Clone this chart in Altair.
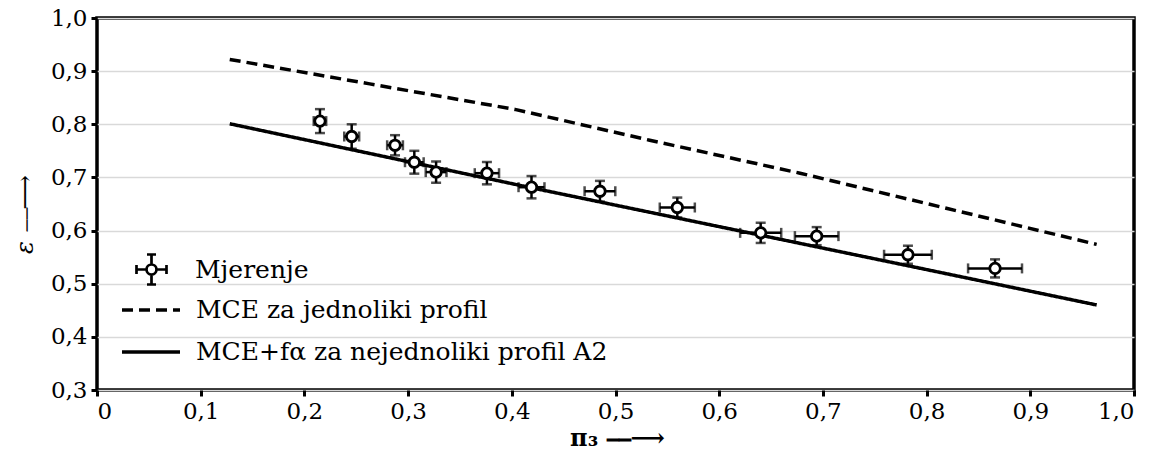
import altair as alt
import pandas as pd

# Measurement points
pi3 = [0.215, 0.2456, 0.2874, 0.306, 0.327, 0.376, 0.419, 0.485, 0.5596, 0.640, 0.694, 0.782, 0.866]
eps = [0.806, 0.777, 0.7605, 0.7286, 0.710, 0.708, 0.6816, 0.674, 0.6434, 0.5957, 0.5895, 0.5545, 0.5288]
pi3_err = [0.006, 0.0072, 0.0076, 0.009, 0.010, 0.0117, 0.0125, 0.0148, 0.0169, 0.0198, 0.021, 0.023, 0.026]
eps_err = [0.0225, 0.023, 0.019, 0.0215, 0.020, 0.021, 0.021, 0.0195, 0.0187, 0.019, 0.017, 0.017, 0.017]

# MCE for uniform profile (dashed)
dash_x = [0.128, 0.263, 0.403, 0.533, 0.678, 0.82, 0.964]
dash_y = [0.922, 0.876, 0.828, 0.770, 0.708, 0.6415, 0.574]
# MCE + f_alpha for non-uniform profile A2 (solid)
solid_x = [0.128, 0.408, 0.794, 0.964]
solid_y = [0.801, 0.685, 0.529, 0.460]

LBL_MEAS = "Mjerenje"
LBL_DASH = "MCE za jednoliki profil"
LBL_SOLID = "MCE+fα za nejednoliki profil A2"

meas = pd.DataFrame({"x": pi3, "y": eps, "xe": pi3_err, "ye": eps_err})
meas["xlo"] = meas.x - meas.xe
meas["xhi"] = meas.x + meas.xe
meas["ylo"] = meas.y - meas.ye
meas["yhi"] = meas.y + meas.ye
meas["kind"] = LBL_MEAS

lines = pd.concat([
    pd.DataFrame({"x": dash_x, "y": dash_y, "series": LBL_DASH, "o": range(len(dash_x))}),
    pd.DataFrame({"x": solid_x, "y": solid_y, "series": LBL_SOLID, "o": range(len(solid_x))}),
])

FONT = "DejaVu Serif"
fmt_x = "datum.value == 0 ? '0' : replace(format(datum.value, '.1f'), '.', ',')"
fmt_y = "replace(format(datum.value, '.1f'), '.', ',')"

xs = alt.Scale(domain=[0, 1], nice=False, zero=False)
ys = alt.Scale(domain=[0.3, 1.0], nice=False, zero=False)

xax = alt.Axis(values=[i / 10 for i in range(11)], labelExpr=fmt_x, grid=False,
               title="π₃ ⎯⎯⟶", titleFont=FONT, titleFontSize=24, titleFontWeight="bold",
               titleFontStyle="normal", titleX=520, titleY=55, titleAlign="center",
               titleBaseline="alphabetic")
yax = alt.Axis(values=[0.3 + i / 10 for i in range(8)], labelExpr=fmt_y, grid=True,
               title="ε ⎯⎯⟶", titleFont=FONT, titleFontSize=24, titleFontStyle="italic",
               titleFontWeight="normal", titleX=-72, titleY=196, titleAlign="center",
               titleBaseline="middle", titleAngle=270)

base_lines = alt.Chart(lines).mark_line(color="black", strokeWidth=3.5, strokeCap="butt").encode(
    x=alt.X("x:Q", scale=xs, axis=xax),
    y=alt.Y("y:Q", scale=ys, axis=yax),
    order="o:Q",
    strokeDash=alt.StrokeDash(
        "series:N",
        scale=alt.Scale(domain=[LBL_DASH, LBL_SOLID], range=[[11, 6], [1, 0]]),
        legend=alt.Legend(
            title=None, orient="none", legendX=23, legendY=277,
            symbolType="stroke", symbolSize=3364, symbolStrokeWidth=3.5,
            symbolStrokeColor="black", clipHeight=30, rowPadding=12,
            labelFont=FONT, labelFontSize=25, labelColor="black", labelOffset=14,
            labelLimit=600, padding=0,
        ),
    ),
)

vbar = alt.Chart(meas).mark_rule(color="black", strokeWidth=2.5).encode(
    x="x:Q", y="ylo:Q", y2="yhi:Q")
hbar = alt.Chart(meas).mark_rule(color="black", strokeWidth=2.5).encode(
    y="y:Q", x="xlo:Q", x2="xhi:Q")
cap_lo = alt.Chart(meas).mark_tick(color="black", orient="horizontal", size=10, thickness=2.5).encode(
    x="x:Q", y="ylo:Q")
cap_hi = alt.Chart(meas).mark_tick(color="black", orient="horizontal", size=10, thickness=2.5).encode(
    x="x:Q", y="yhi:Q")
cap_l = alt.Chart(meas).mark_tick(color="black", orient="vertical", size=10, thickness=2.5).encode(
    x="xlo:Q", y="y:Q")
cap_r = alt.Chart(meas).mark_tick(color="black", orient="vertical", size=10, thickness=2.5).encode(
    x="xhi:Q", y="y:Q")

sym_path = ("M -0.333,0 A 0.333,0.333 0 1,0 0.333,0 A 0.333,0.333 0 1,0 -0.333,0 Z "
            "M -1,0 L -0.333,0 M 0.333,0 L 1,0 M 0,-1 L 0,-0.333 M 0,0.333 L 0,1 "
            "M -1,-0.3 L -1,0.3 M 1,-0.3 L 1,0.3 M -0.3,-1 L 0.3,-1 M -0.3,1 L 0.3,1")

points = alt.Chart(meas).mark_point(filled=True, stroke="black", strokeWidth=2.8, size=110,
                                    opacity=1).encode(
    x="x:Q", y="y:Q",
    fill=alt.Fill("kind:N", scale=alt.Scale(domain=[LBL_MEAS], range=["white"]),
                  legend=alt.Legend(
                      title=None, orient="none", legendX=38, legendY=235,
                      symbolType=sym_path, symbolSize=900, symbolStrokeWidth=2.7,
                      symbolStrokeColor="black", symbolFillColor="white",
                      labelFont=FONT, labelFontSize=25, labelColor="black",
                      labelOffset=27, padding=0, labelLimit=600,
                  )),
)

chart = alt.layer(base_lines, vbar, hbar, cap_lo, cap_hi, cap_l, cap_r, points).resolve_legend(
    strokeDash="independent", fill="independent"
).properties(
    width=1037, height=372,
    background="white",
    autosize=alt.AutoSizeParams(type="none"),
    padding={"left": 89, "top": 10, "right": 10, "bottom": 60},
).configure_view(
    stroke="black", strokeWidth=3.5
).configure_axis(
    domain=False, tickColor="black", tickWidth=3, tickSize=6,
    labelFont=FONT, labelFontSize=23, labelColor="black", labelPadding=4,
    gridColor="#d9d9d9", gridWidth=1.5, titleColor="black",
)

chart.save("out.html", embed_options={"renderer": "svg", "actions": False})
